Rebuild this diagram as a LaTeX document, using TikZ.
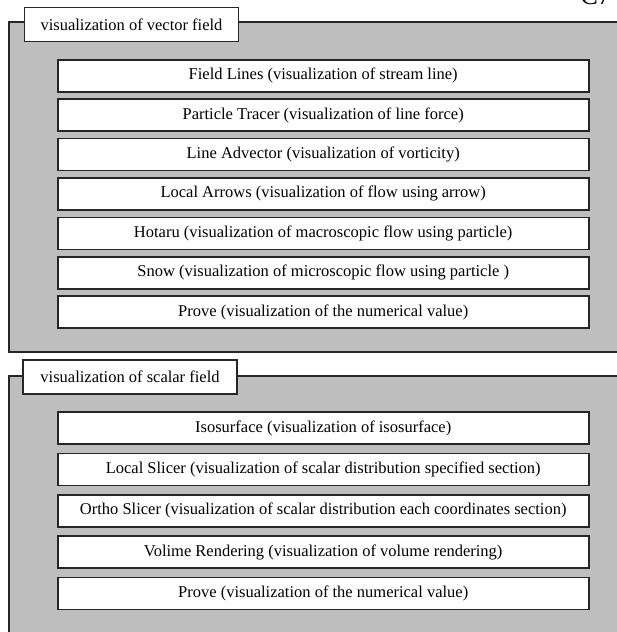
\documentclass[tikz,border=0pt]{standalone}
\usepackage{fontspec}
\setmainfont{Liberation Serif}
\definecolor{panelgray}{RGB}{190,190,190}
\tikzset{panel/.style = {fill=panelgray, draw=black!85, line width=1.2pt},
         tab/.style = {draw=black!85, fill=white, line width=1.2pt,
                       minimum width=214pt, minimum height=34pt,
                       font=\fontsize{16.5}{18}\selectfont},
         itembox/.style = {draw=black!85, fill=white, line width=1.6pt,
                           minimum width=531pt, minimum height=32pt,
                           font=\fontsize{16.5}{18}\selectfont}}

\begin{document}
\begin{tikzpicture}[x=1pt, y=-1pt]
    \useasboundingbox (0, 0) rectangle (616, 632);
    \node [anchor=south, font=\fontsize{26}{28}\selectfont] (pagetag) at (600, 8) {C7-};

    % vector field
    \draw [panel] (9, 22) rectangle (640, 352);
    \node [tab] (vectab) at (131.5, 24.5) {visualization of vector field};
    \foreach \txt [count=\i] in {{Field Lines (visualization of stream line)},
                                 {Particle Tracer (visualization of line force)},
                                 {Line Advector (visualization of vorticity)},
                                 {Local Arrows (visualization of flow using arrow)},
                                 {Hotaru (visualization of macroscopic flow using particle)},
                                 {Snow (visualization of microscopic flow using particle )},
                                 {Prove (visualization of the numerical value)}} {
      \node [itembox] (vec-\i) at (323.2, {75.7 + 39.4*(\i-1)}) {\txt};
    }

    % scalar field
    \draw [panel] (9, 376) rectangle (640, 660);
    \node [tab] (scatab) at (130, 377) {visualization of scalar field};
    \foreach \txt [count=\i] in {{Isosurface (visualization of isosurface)},
                                 {Local Slicer (visualization of scalar distribution specified section)},
                                 {Ortho Slicer (visualization of scalar distribution each coordinates section)},
                                 {Volime Rendering (visualization of volume rendering)},
                                 {Prove (visualization of the numerical value)}} {
      \node [itembox] (sca-\i) at (323.2, {428 + 41.4*(\i-1)}) {\txt};
    }
\end{tikzpicture}
\end{document}
